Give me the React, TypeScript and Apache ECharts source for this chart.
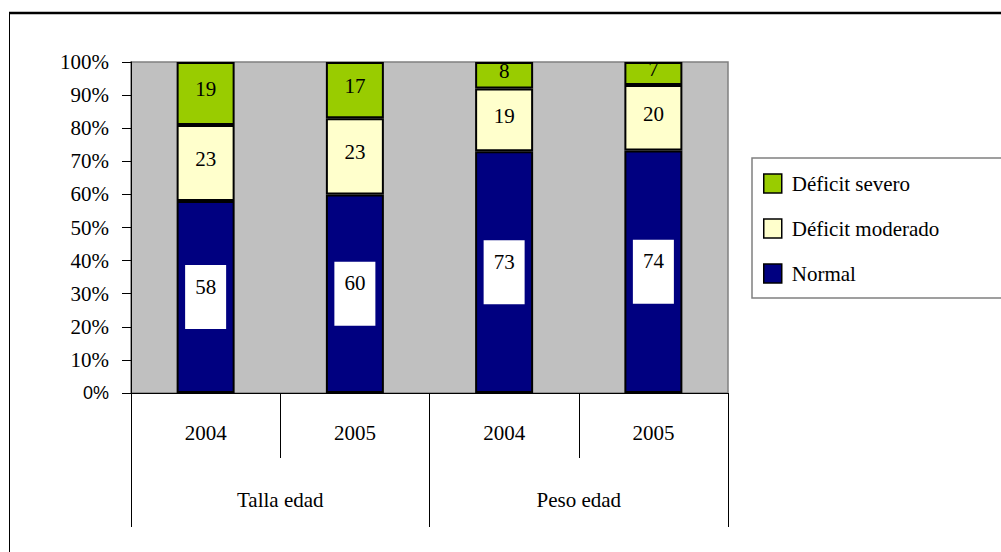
import React, { useEffect, useRef } from "react";
import * as echarts from "echarts";

const categories = ["2004", "2005", "2004", "2005"];
const groups = ["Talla edad", "Peso edad"];
const normal = [58, 60, 73, 74];
const moderado = [23, 23, 19, 20];
const severo = [19, 17, 8, 7];
const seriesNames = ["Normal", "Déficit moderado", "Déficit severo"];
const seriesColors = ["#000080", "#FFFFCC", "#99CC00"];
const legendOrder = ["Déficit severo", "Déficit moderado", "Normal"];

const SERIF = "'Liberation Serif', 'Times New Roman', serif";

export default function App() {
  const ref = useRef<HTMLDivElement>(null);
  useEffect(() => {
    if (!ref.current) return;
    const chart = echarts.init(ref.current, undefined, { renderer: "svg" });
    const raws = [normal, moderado, severo];
    const totals = categories.map((_, i) => normal[i] + moderado[i] + severo[i]);
    const series = raws.map((arr, si) => ({
      name: seriesNames[si],
      type: "bar",
      stack: "total",
      barWidth: 58,
      itemStyle: { color: seriesColors[si], borderColor: "#000", borderWidth: 2 },
      data: arr.map((v, i) => ({ value: (v / totals[i]) * 100, raw: v })),
      label: {
        show: true,
        position: "inside",
        formatter: (p: any) => (si === 0 ? `${p.data.raw}\n ` : String(p.data.raw)),
        fontFamily: SERIF,
        fontSize: 21,
        color: "#000",
        ...(si === 0
          ? { backgroundColor: "#fff", padding: [17, 10, 5, 10], lineHeight: 21 }
          : { offset: [0, -4] }),
      },
    }));
    chart.setOption({
      animation: false,
      backgroundColor: "#fff",
      grid: {
        left: 131,
        top: 62,
        width: 597,
        height: 331,
        show: true,
        backgroundColor: "#C0C0C0",
        borderColor: "#808080",
        borderWidth: 1.5,
      },
      legend: {
        data: legendOrder,
        orient: "vertical",
        left: 763,
        top: 173,
        padding: 0,
        itemWidth: 18,
        itemHeight: 19,
        itemGap: 24,
        icon: "rect",
        itemStyle: { borderColor: "#000", borderWidth: 1.5 },
        textStyle: { fontFamily: SERIF, fontSize: 21, color: "#000", padding: [0, 0, 0, 5] },
      },
      xAxis: [
        {
          type: "category",
          data: categories,
          position: "bottom",
          axisLine: { show: true, lineStyle: { color: "#000", width: 1 } },
          axisTick: { show: true, interval: 0, length: 65, lineStyle: { color: "#000", width: 1 } },
          axisLabel: { interval: 0, margin: 29, fontFamily: SERIF, fontSize: 21, color: "#000" },
        },
        {
          type: "category",
          data: groups,
          position: "bottom",
          axisLine: { show: false },
          axisTick: { show: true, interval: 0, length: 134, lineStyle: { color: "#000", width: 1 } },
          axisLabel: { interval: 0, margin: 96, fontFamily: SERIF, fontSize: 21, color: "#000" },
        },
      ],
      yAxis: {
        type: "value",
        min: 0,
        max: 100,
        interval: 10,
        axisLine: { show: true, lineStyle: { color: "#000", width: 1 } },
        axisTick: { show: true, length: 9, lineStyle: { color: "#000", width: 1 } },
        splitLine: { show: false },
        axisLabel: {
          margin: 22,
          fontFamily: SERIF,
          fontSize: 21,
          color: "#000",
          formatter: (v: number) => (v === 0 ? "{s|0%}" : v + "%"),
          rich: { s: { fontFamily: "'Liberation Sans', Arial, sans-serif", fontSize: 18, color: "#000" } },
        },
      },
      graphic: [
        { type: "line", shape: { x1: 9, y1: 13, x2: 1001, y2: 13 }, style: { stroke: "#000", lineWidth: 2.5 } },
        { type: "line", shape: { x1: 9.5, y1: 13, x2: 9.5, y2: 552 }, style: { stroke: "#000", lineWidth: 1 } },
        {
          type: "rect",
          z: -1,
          shape: { x: 752, y: 158, width: 300, height: 140 },
          style: { fill: "transparent", stroke: "#808080", lineWidth: 1.5 },
        },
      ],
      series,
    });
    return () => chart.dispose();
  }, []);
  return (
    <div
      ref={ref}
      style={{ position: "fixed", left: 0, top: 0, width: 1001, height: 552, background: "#fff" }}
    />
  );
}
